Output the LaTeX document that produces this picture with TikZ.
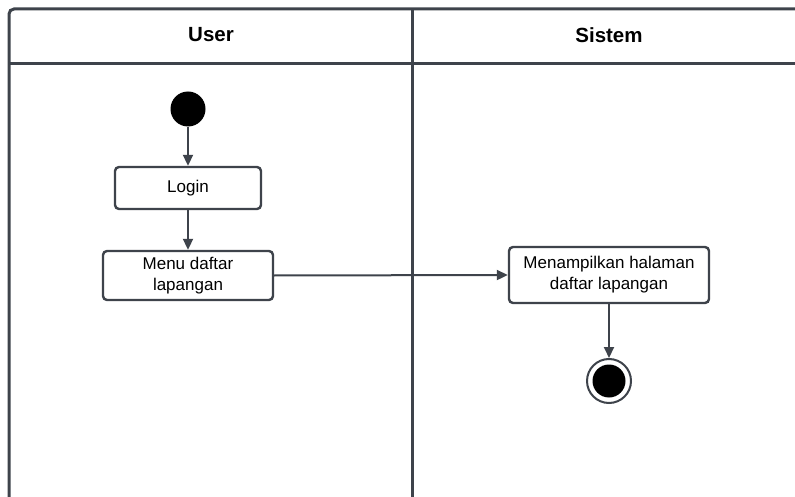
\documentclass[tikz,border=0pt]{standalone}
\usepackage{fontspec}
\setmainfont{Liberation Sans}
\usetikzlibrary{arrows.meta}
\definecolor{ink}{HTML}{3E434B}
\tikzset{
  lane/.style={draw=ink, line width=3pt},
  act/.style={draw=ink, line width=2.4pt, rounded corners=4pt, fill=white,
    align=center, font=\fontsize{17}{21}\selectfont, inner sep=0pt},
  flow/.style={draw=ink, line width=2pt, -{Triangle[length=11pt,width=10pt]}},
  head/.style={font=\bfseries\fontsize{20.5}{23}\selectfont},
}
\begin{document}
\begin{tikzpicture}[x=1pt,y=-1pt]
\useasboundingbox (0,0) rectangle (795,497);
\begin{scope}
  \clip (0,0) rectangle (795,497);
  % swimlane frame
  \draw[lane, rounded corners=5pt] (9,520) -- (9,9) -- (820,9);
  \draw[lane] (9,64) -- (820,64);
  \draw[lane] (412,9) -- (412,520);
\end{scope}
\node[head] (user) at (211,35) {User};
\node[head] (sistem) at (609,35) {Sistem};

% start
\node[circle, fill=black, minimum size=35pt, inner sep=0pt] (start) at (188,109) {};
% actions
\node[act, minimum width=146pt, minimum height=42pt] (login) at (188,188) {Login};
\node[act, minimum width=170pt, minimum height=49pt] (menu) at (188,275.5) {Menu daftar\\lapangan};
\node[act, minimum width=200pt, minimum height=56pt] (tampil) at (609,275) {Menampilkan halaman\\daftar lapangan};
% end
\node[circle, draw=ink, line width=2pt, fill=white, minimum size=44pt, inner sep=0pt] (end) at (609,381) {};
\node[circle, fill=black, minimum size=33pt, inner sep=0pt] (endin) at (609,381) {};

\draw[flow] (start) -- (login);
\draw[flow] (login) -- (menu);
\draw[flow] (menu.east) -- (tampil.west);
\draw[flow] (tampil) -- (end);
\end{tikzpicture}
\end{document}
